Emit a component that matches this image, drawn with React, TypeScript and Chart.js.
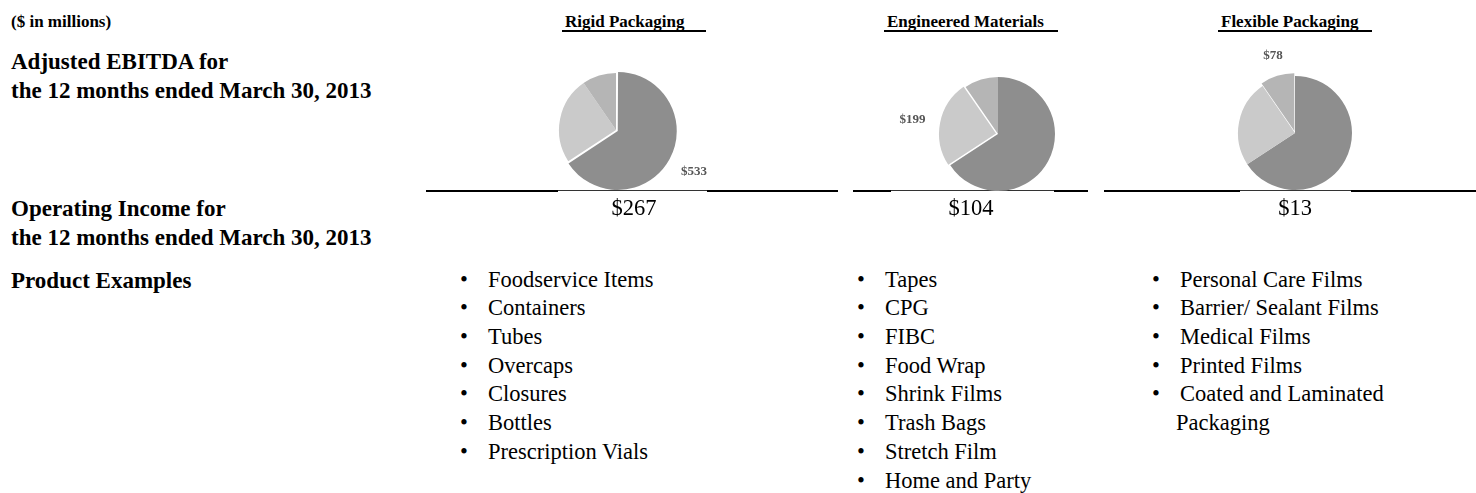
import React, { useEffect, useRef } from "react";
import { Chart, registerables } from "chart.js";

Chart.register(...registerables);

// ---------- data ----------
const segments = ["Rigid Packaging", "Engineered Materials", "Flexible Packaging"];
const adjustedEbitda = [533, 199, 78];
const operatingIncome = [267, 104, 13];
const rigidProducts = [
  "Foodservice Items",
  "Containers",
  "Tubes",
  "Overcaps",
  "Closures",
  "Bottles",
  "Prescription Vials",
];
const engineeredProducts = [
  "Tapes",
  "CPG",
  "FIBC",
  "Food Wrap",
  "Shrink Films",
  "Trash Bags",
  "Stretch Film",
  "Home and Party",
];
const flexibleProducts = [
  "Personal Care Films",
  "Barrier/ Sealant Films",
  "Medical Films",
  "Printed Films",
  "Coated and Laminated Packaging",
];
const sliceColors = ["#8e8e8e", "#cacaca", "#b5b5b5"];

// ---------- layout ----------
const SERIF = "'Liberation Serif', 'Times New Roman', serif";
const colCenters = [634, 971, 1295];
const pieCenters = [
  [616, 130],
  [998, 134],
  [1295, 133],
];
const headUnderline = [
  [562, 706],
  [884, 1058],
  [1218, 1372],
];
const bulletX = [460, 857, 1152];
const textX = [488, 885, 1180];
const productLists = [rigidProducts, engineeredProducts, flexibleProducts];
const rowStart = 280;
const rowStep = 28.7;

function PieChart({ index }: { index: number }) {
  const ref = useRef<HTMLCanvasElement>(null);
  const w = 240;
  const h = 200;
  const [cx, cy] = pieCenters[index];
  useEffect(() => {
    if (!ref.current) return;
    const offsets = adjustedEbitda.map((_, i) => (i === index ? 8 : 0));
    const labelPlugin = {
      id: "sliceLabel",
      afterDatasetsDraw(chart: any) {
        const arc: any = chart.getDatasetMeta(0).data[index];
        const { x, y, startAngle, endAngle, outerRadius } = arc.getProps(
          ["x", "y", "startAngle", "endAngle", "outerRadius"],
          true
        );
        const mid = (startAngle + endAngle) / 2;
        const c = Math.cos(mid);
        const s = Math.sin(mid);
        const d = outerRadius + offsets[index] + 9;
        const px = x + c * d;
        const py = y + s * d;
        const ctx = chart.ctx;
        ctx.save();
        ctx.font = `bold 13px ${SERIF}`;
        ctx.fillStyle = "#555555";
        ctx.textAlign = c > 0.4 ? "left" : c < -0.4 ? "right" : "center";
        ctx.textBaseline = s > 0.4 ? "top" : s < -0.4 ? "bottom" : "middle";
        ctx.fillText("$" + adjustedEbitda[index], px, py);
        ctx.restore();
      },
    };
    const chart = new Chart(ref.current, {
      type: "pie",
      data: {
        labels: segments,
        datasets: [
          {
            data: adjustedEbitda,
            backgroundColor: sliceColors,
            borderWidth: 0,
            offset: offsets,
          },
        ],
      },
      options: {
        responsive: false,
        maintainAspectRatio: false,
        animation: false,
        radius: 57,
        events: [],
        layout: { padding: 0 },
        plugins: {
          legend: { display: false },
          tooltip: { enabled: false },
        },
      } as any,
      plugins: [labelPlugin],
    });
    return () => chart.destroy();
  }, [index]);
  return (
    <canvas
      ref={ref}
      width={w}
      height={h}
      style={{ position: "absolute", left: cx - w / 2, top: cy - h / 2, width: w, height: h }}
    />
  );
}

function Txt({
  x,
  cy,
  size,
  bold,
  lh,
  children,
  align,
  width,
}: {
  x: number;
  cy: number;
  size: number;
  bold?: boolean;
  lh: number;
  children: React.ReactNode;
  align?: "left" | "center";
  width?: number;
}) {
  const style: React.CSSProperties = {
    position: "absolute",
    top: cy - lh / 2,
    fontFamily: SERIF,
    fontSize: size,
    fontWeight: bold ? 700 : 400,
    lineHeight: `${lh}px`,
    color: "#000",
    whiteSpace: width ? "normal" : "nowrap",
  };
  if (align === "center") {
    style.left = x - 150;
    style.width = 300;
    style.textAlign = "center";
  } else {
    style.left = x;
    if (width) style.width = width;
  }
  return <div style={style}>{children}</div>;
}

function HLine({ x1, x2, y, t, color }: { x1: number; x2: number; y: number; t: number; color: string }) {
  return (
    <div
      style={{ position: "absolute", left: x1, top: y, width: x2 - x1, height: t, background: color }}
    />
  );
}

export default function App() {
  useEffect(() => {
    document.body.style.margin = "0";
    document.body.style.background = "#ffffff";
  }, []);

  const lineY = 190;
  const lineParts: [number, number, boolean][] = [
    [426, 558, true],
    [558, 707, false],
    [707, 838, true],
    [853, 891, true],
    [891, 1054, false],
    [1054, 1088, true],
    [1104, 1240, true],
    [1240, 1351, false],
    [1351, 1476, true],
  ];

  return (
    <div style={{ position: "relative", width: 1476, height: 493, overflow: "hidden", background: "#fff" }}>
      <Txt x={11} cy={22} size={17} bold lh={20}>
        ($ in millions)
      </Txt>
      {segments.map((s, i) => (
        <React.Fragment key={s}>
          <Txt x={headUnderline[i][0] + 3} cy={22} size={17} bold lh={20}>
            {s}
          </Txt>
          <HLine x1={headUnderline[i][0]} x2={headUnderline[i][1]} y={30} t={2} color="#000" />
        </React.Fragment>
      ))}

      <Txt x={11} cy={61} size={23} bold lh={29}>
        Adjusted EBITDA for
      </Txt>
      <Txt x={11} cy={90} size={23} bold lh={29}>
        the 12 months ended March 30, 2013
      </Txt>

      {lineParts.map(([a, b, thick], i) => (
        <HLine key={i} x1={a} x2={b} y={lineY} t={thick ? 2 : 1} color={thick ? "#000" : "#333"} />
      ))}

      {segments.map((s, i) => (
        <PieChart key={s} index={i} />
      ))}

      <Txt x={11} cy={208} size={23} bold lh={29}>
        Operating Income for
      </Txt>
      <Txt x={11} cy={237} size={23} bold lh={29}>
        the 12 months ended March 30, 2013
      </Txt>
      {operatingIncome.map((v, i) => (
        <Txt key={i} x={colCenters[i]} cy={208} size={22.5} lh={28} align="center">
          {"$" + v}
        </Txt>
      ))}

      <Txt x={11} cy={rowStart} size={23} bold lh={29}>
        Product Examples
      </Txt>
      {productLists.map((list, c) =>
        list.map((item, r) => (
          <React.Fragment key={c + "-" + r}>
            <Txt x={bulletX[c]} cy={rowStart + r * rowStep} size={22.5} lh={rowStep}>
              •
            </Txt>
            <div
              style={{
                position: "absolute",
                left: textX[c] - 4,
                top: rowStart + r * rowStep - rowStep / 2,
                width: 250,
                fontFamily: SERIF,
                fontSize: 22.5,
                lineHeight: `${rowStep}px`,
                textIndent: 4,
                color: "#000",
              }}
            >
              {item}
            </div>
          </React.Fragment>
        ))
      )}
    </div>
  );
}
